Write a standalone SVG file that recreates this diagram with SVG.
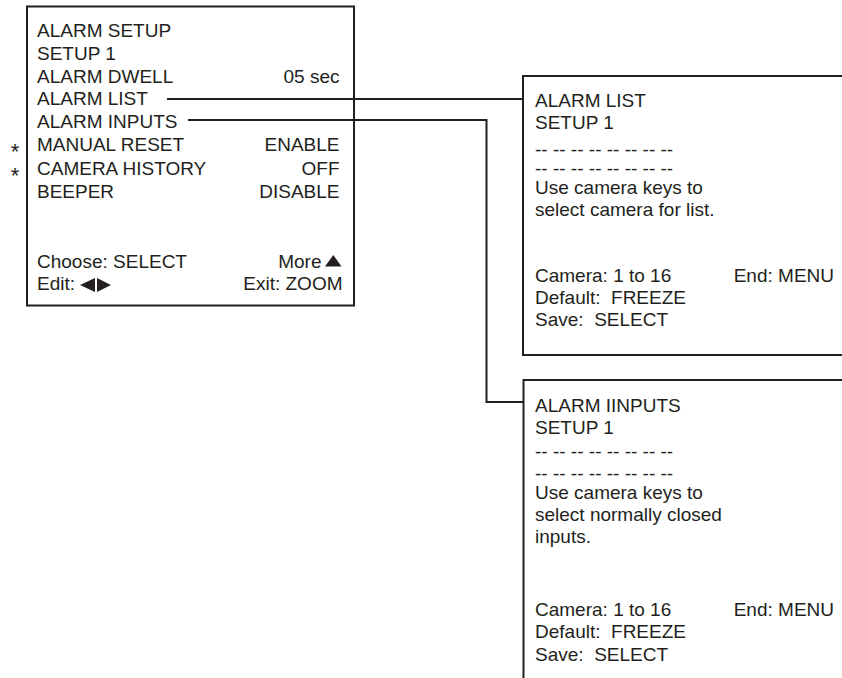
<svg xmlns="http://www.w3.org/2000/svg" width="842" height="678" viewBox="0 0 842 678">
<style>
text{font-family:"Liberation Sans",Arial,sans-serif;font-size:19px;fill:#231f20}
.e{text-anchor:end}
.star{text-anchor:middle;font-size:22px}
.box{fill:none;stroke:#231f20;stroke-width:2}
.wire{fill:none;stroke:#231f20;stroke-width:2}
.tri{fill:#231f20}
</style>
<rect width="842" height="678" fill="#ffffff"/>
<g id="alarm-setup">
<rect class="box" x="27" y="6.5" width="327" height="299"/>
<text x="37" y="37">ALARM SETUP</text>
<text x="37" y="60">SETUP 1</text>
<text x="37" y="82.5">ALARM DWELL</text>
<text class="e" x="339.5" y="82.5">05 sec</text>
<text x="37" y="105">ALARM LIST</text>
<text x="37" y="128">ALARM INPUTS</text>
<text class="star" x="15" y="159">*</text>
<text x="37" y="151">MANUAL RESET</text>
<text class="e" x="339.5" y="151">ENABLE</text>
<text class="star" x="15" y="183">*</text>
<text x="37" y="175">CAMERA HISTORY</text>
<text class="e" x="339.5" y="175">OFF</text>
<text x="37" y="197.5">BEEPER</text>
<text class="e" x="339.5" y="197.5">DISABLE</text>
<text x="37" y="268">Choose: SELECT</text>
<text class="e" x="321.5" y="268">More</text>
<polygon class="tri" points="325,266.5 341.5,266.5 333.3,255"/>
<text x="37" y="290">Edit:</text>
<polygon class="tri" points="80,285 95,278 95,292"/>
<polygon class="tri" points="97,278 97,292 111,285"/>
<text class="e" x="342.5" y="290">Exit: ZOOM</text>
</g>
<g id="alarm-list">
<path class="box" d="M850 76 H523 V355 H850"/>
<text x="535" y="107">ALARM LIST</text>
<text x="535" y="129">SETUP 1</text>
<text x="535" y="155.5">-- -- -- -- -- -- -- --</text>
<text x="535" y="175">-- -- -- -- -- -- -- --</text>
<text x="535" y="194">Use camera keys to</text>
<text x="535" y="215.5">select camera for list.</text>
<text x="535" y="282">Camera: 1 to 16</text>
<text class="e" x="834" y="282">End: MENU</text>
<text x="535" y="304" xml:space="preserve">Default:  FREEZE</text>
<text x="535" y="326" xml:space="preserve">Save:  SELECT</text>
</g>
<g id="alarm-inputs">
<path class="box" d="M850 380 H523.5 V690"/>
<text x="535" y="411.5">ALARM IINPUTS</text>
<text x="535" y="433.5">SETUP 1</text>
<text x="535" y="457.5">-- -- -- -- -- -- -- --</text>
<text x="535" y="479.5">-- -- -- -- -- -- -- --</text>
<text x="535" y="499">Use camera keys to</text>
<text x="535" y="520.5">select normally closed</text>
<text x="535" y="542.5">inputs.</text>
<text x="535" y="615.5">Camera: 1 to 16</text>
<text class="e" x="834" y="615.5">End: MENU</text>
<text x="535" y="638" xml:space="preserve">Default:  FREEZE</text>
<text x="535" y="660.5" xml:space="preserve">Save:  SELECT</text>
</g>
<g id="connectors">
<path class="wire" d="M167 99 H523"/>
<path class="wire" d="M188 120 H486.5 V402 H523.5"/>
</g>
</svg>
